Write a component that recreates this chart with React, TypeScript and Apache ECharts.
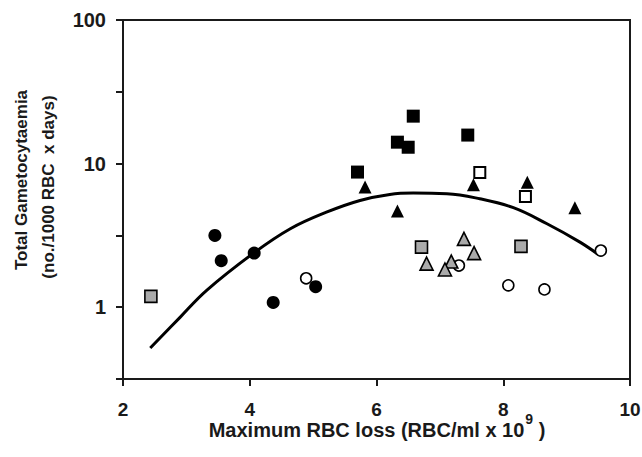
import React, { useEffect, useRef } from "react";
import * as echarts from "echarts";

// x: Maximum RBC loss (RBC/ml x 10^9), y: Total gametocytaemia
const filledCircles: number[][] = [[3.45, 3.16], [3.55, 2.11], [4.07, 2.38], [4.37, 1.08], [5.04, 1.39]];
const openCircles: number[][] = [[4.89, 1.59], [7.3, 1.95], [8.08, 1.42], [8.65, 1.33], [9.54, 2.48]];
const graySquares: number[][] = [[2.44, 1.19], [6.71, 2.62], [8.28, 2.65]];
const grayTriangles: number[][] = [[6.79, 2.01], [7.38, 2.99], [7.54, 2.38], [7.18, 2.08], [7.08, 1.83]];
const filledSquares: number[][] = [[6.58, 21.4], [6.33, 14.1], [6.5, 13.0], [7.44, 15.8], [5.7, 8.73]];
const openSquares: number[][] = [[7.63, 8.68], [8.35, 5.91]];
const filledTriangles: number[][] = [[5.82, 6.86], [7.53, 7.13], [8.38, 7.43], [6.33, 4.67], [9.13, 4.93]];

// fitted curve
const curveX: number[] = [2.43, 2.9, 3.32, 4.06, 4.64, 5.21, 5.74, 6.21, 6.58, 7.11, 7.63, 8.16, 8.69, 9.21, 9.5];
const curveY: number[] = [0.52, 0.85, 1.31, 2.38, 3.52, 4.59, 5.54, 6.1, 6.23, 6.17, 5.69, 4.93, 3.81, 2.84, 2.33];

const xTicks = { min: 2, max: 10, interval: 2 };
// y axis drawn on log10 scale: 10^-0.5 .. 10^2, ticks every half decade
const yLogMin = -0.5;
const yLogMax = 2;
const yLogInterval = 0.5;

const xTitleMain = "Maximum RBC loss (RBC/ml x 10";
const xTitleSup = "9";
const xTitleEnd = " )";
const yTitle1 = "Total Gametocytaemia";
const yTitle2 = "(no./1000 RBC  x days)";

const FONT = "'Liberation Sans', Arial, sans-serif";
const INK = "#1a1a1a";
const GRAY = "#aaaaaa";

const toLog = (pts: number[][]) => pts.map(([x, y]) => [x, Math.log10(y)]);

function textWidth(text: string, font: string, fallback: number): number {
  try {
    const t = new (echarts.graphic as any).Text({ style: { text, font } });
    const w = t.getBoundingRect().width;
    return w > 0 ? w : fallback;
  } catch (e) {
    return fallback;
  }
}

export default function App() {
  const ref = useRef<HTMLDivElement>(null);
  useEffect(() => {
    if (!ref.current) return;
    const chart = echarts.init(ref.current, undefined, { renderer: "svg" });
    const scatter = (name: string, data: number[][], symbol: string, size: number, fill: string, border: number) => ({
      type: "scatter",
      name,
      data: toLog(data),
      symbol,
      symbolSize: size,
      z: 3,
      itemStyle: { color: fill, borderColor: "#000", borderWidth: border, opacity: 1 },
    });

    const mainFont = `bold 20px ${FONT}`;
    const supFont = `bold 14px ${FONT}`;
    const wMain = textWidth(xTitleMain, mainFont, 310);
    const wSup = textWidth(xTitleSup, supFont, 8);
    const wEnd = textWidth(xTitleEnd, mainFont, 12);
    const gap = 1;
    const total = wMain + gap + wSup + wEnd;
    const left = 377 - total / 2;
    const titleY = 430;

    chart.setOption({
      animation: false,
      grid: {
        left: 123,
        right: 12,
        top: 20,
        bottom: 78,
        show: true,
        borderColor: INK,
        borderWidth: 2,
        backgroundColor: "transparent",
        outerBoundsMode: "none",
      },
      xAxis: {
        type: "value",
        min: xTicks.min,
        max: xTicks.max,
        interval: xTicks.interval,
        axisLine: { show: true, onZero: false, lineStyle: { color: INK, width: 2 } },
        axisTick: { show: true, inside: false, length: 7, lineStyle: { color: INK, width: 2 } },
        splitLine: { show: false },
        axisLabel: { color: INK, fontSize: 19, fontWeight: "bold", fontFamily: FONT, margin: 21 },
      },
      yAxis: {
        type: "value",
        min: yLogMin,
        max: yLogMax,
        interval: yLogInterval,
        axisLine: { show: true, onZero: false, lineStyle: { color: INK, width: 2 } },
        axisTick: { show: true, inside: false, length: 7, lineStyle: { color: INK, width: 2 } },
        splitLine: { show: false },
        axisLabel: {
          color: INK,
          fontSize: 20,
          fontWeight: "bold",
          fontFamily: FONT,
          margin: 17,
          formatter: (v: number) =>
            Math.abs(v - Math.round(v)) < 1e-9 ? String(Math.round(Math.pow(10, v))) : "",
        },
      },
      graphic: [
        {
          type: "text",
          x: 21,
          y: 180,
          rotation: Math.PI / 2,
          style: { text: yTitle1, font: `bold 17px ${FONT}`, fill: INK, align: "center", verticalAlign: "middle" },
        },
        {
          type: "text",
          x: 48,
          y: 187,
          rotation: Math.PI / 2,
          style: { text: yTitle2, font: `bold 17px ${FONT}`, fill: INK, align: "center", verticalAlign: "middle" },
        },
        {
          type: "text",
          x: left,
          y: titleY,
          style: { text: xTitleMain, font: mainFont, fill: INK, align: "left", verticalAlign: "middle" },
        },
        {
          type: "text",
          x: left + wMain + gap,
          y: titleY - 11,
          style: { text: xTitleSup, font: supFont, fill: INK, align: "left", verticalAlign: "middle" },
        },
        {
          type: "text",
          x: left + wMain + gap + wSup,
          y: titleY,
          style: { text: xTitleEnd, font: mainFont, fill: INK, align: "left", verticalAlign: "middle" },
        },
      ],
      series: [
        {
          type: "line",
          name: "fit",
          data: curveX.map((x, i) => [x, Math.log10(curveY[i])]),
          smooth: 0.4,
          showSymbol: false,
          symbol: "none",
          z: 2,
          lineStyle: { color: "#000", width: 3 },
        },
        scatter("filledCircles", filledCircles, "circle", 13, "#000", 0),
        scatter("openCircles", openCircles, "circle", 11, "#fff", 1.6),
        scatter("graySquares", graySquares, "rect", 12, GRAY, 1.6),
        scatter("grayTriangles", grayTriangles, "triangle", 13, GRAY, 1.6),
        scatter("filledSquares", filledSquares, "rect", 13, "#000", 0),
        scatter("openSquares", openSquares, "rect", 11, "#fff", 2),
        scatter("filledTriangles", filledTriangles, "triangle", 13, "#000", 0),
      ],
    });
    return () => chart.dispose();
  }, []);
  return <div ref={ref} style={{ width: 642, height: 457, position: "absolute", left: 0, top: 0 }} />;
}
